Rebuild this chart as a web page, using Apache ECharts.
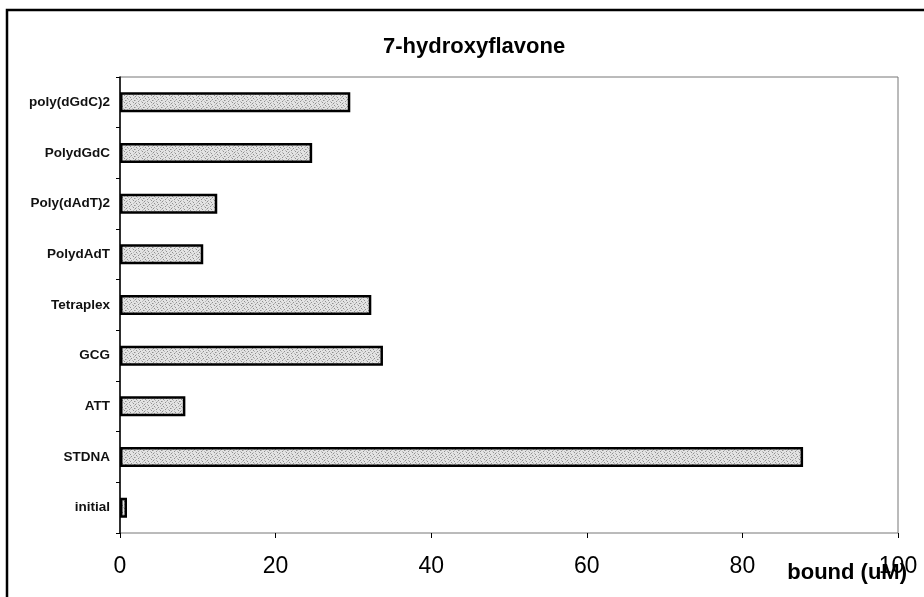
<!DOCTYPE html>
<html>
<head>
<meta charset="utf-8">
<title>7-hydroxyflavone</title>
<script src="https://cdn.jsdelivr.net/npm/echarts@6/dist/echarts.min.js"></script>
<style>
  html, body { margin: 0; padding: 0; background: #fff; }
  #chart { width: 924px; height: 597px; }
</style>
</head>
<body>
<div id="chart"></div>
<script>
// categories, bottom to top as drawn
var categories = ['initial', 'STDNA', 'ATT', 'GCG', 'Tetraplex', 'PolydAdT', 'Poly(dAdT)2', 'PolydGdC', 'poly(dGdC)2'];
var boundValues = [0.9, 87.8, 8.4, 33.8, 32.3, 10.7, 12.5, 24.7, 29.6];
var xTicks = [0, 20, 40, 60, 80, 100];

var sans = '"Liberation Sans", Arial, sans-serif';

// speckled grey fill for the bars
function speckle() {
    var c = document.createElement('canvas');
    c.width = 9; c.height = 7;
    var g = c.getContext('2d');
    g.fillStyle = '#e3e3e3';
    g.fillRect(0, 0, 9, 7);
    var dark = [[1,0],[5,1],[3,3],[7,4],[0,5],[4,6],[8,2]];
    var mid = [[2,1],[6,3],[1,4],[7,0],[4,2],[3,5],[8,6],[0,2]];
    g.fillStyle = '#8f8f8f';
    dark.forEach(function(p){ g.fillRect(p[0], p[1], 1, 1); });
    g.fillStyle = '#b9b9b9';
    mid.forEach(function(p){ g.fillRect(p[0], p[1], 1, 1); });
    return c;
}

var chart = echarts.init(document.getElementById('chart'));

var option = {
    backgroundColor: '#fff',
    animation: false,
    title: {
        text: '7-hydroxyflavone',
        left: 378,
        top: 31,
        textStyle: { fontFamily: sans, fontWeight: 'bold', fontSize: 22, color: '#000' }
    },
    graphic: [{
        type: 'rect',
        shape: { x: 7, y: 10, width: 940, height: 620 },
        style: { fill: 'none', stroke: '#000', lineWidth: 2.5 },
        silent: true
    }],
    grid: {
        left: 120, top: 77, right: 26, bottom: 64,
        containLabel: false,
        outerBoundsMode: 'none',
        show: true, borderColor: '#777', borderWidth: 1
    },
    xAxis: {
        type: 'value',
        min: 0, max: 100, interval: 20,
        name: 'bound (uM)',
        nameLocation: 'end',
        nameGap: 9,
        nameMoveOverlap: false,
        nameTextStyle: {
            fontFamily: sans, fontWeight: 'bold', fontSize: 22, color: '#000',
            align: 'right', verticalAlign: 'top', padding: [29, 0, 0, 0]
        },
        axisLine: { lineStyle: { color: '#000', width: 1.5 } },
        axisTick: { show: true, length: 5, lineStyle: { color: '#000' } },
        splitLine: { show: false },
        axisLabel: {
            margin: 22,
            fontFamily: sans, fontSize: 23, color: '#000',
            formatter: function(v){ return xTicks.indexOf(v) >= 0 ? String(v) : ''; }
        }
    },
    yAxis: {
        type: 'category',
        data: categories,
        axisLine: { lineStyle: { color: '#000', width: 1.5 } },
        axisTick: { show: true, length: 4, lineStyle: { color: '#000' } },
        axisLabel: {
            margin: 10,
            fontFamily: sans,
            fontWeight: 'bold', fontSize: 13.5, color: '#111'
        }
    },
    series: [{
        name: 'bound',
        type: 'bar',
        data: boundValues,
        barWidth: 20,
        itemStyle: {
            color: { image: speckle(), repeat: 'repeat' },
            borderColor: '#000',
            borderWidth: 2.5
        }
    }]
};

chart.setOption(option);

window.onresize = function(){
    chart.resize();
};
</script>
</body>
</html>
